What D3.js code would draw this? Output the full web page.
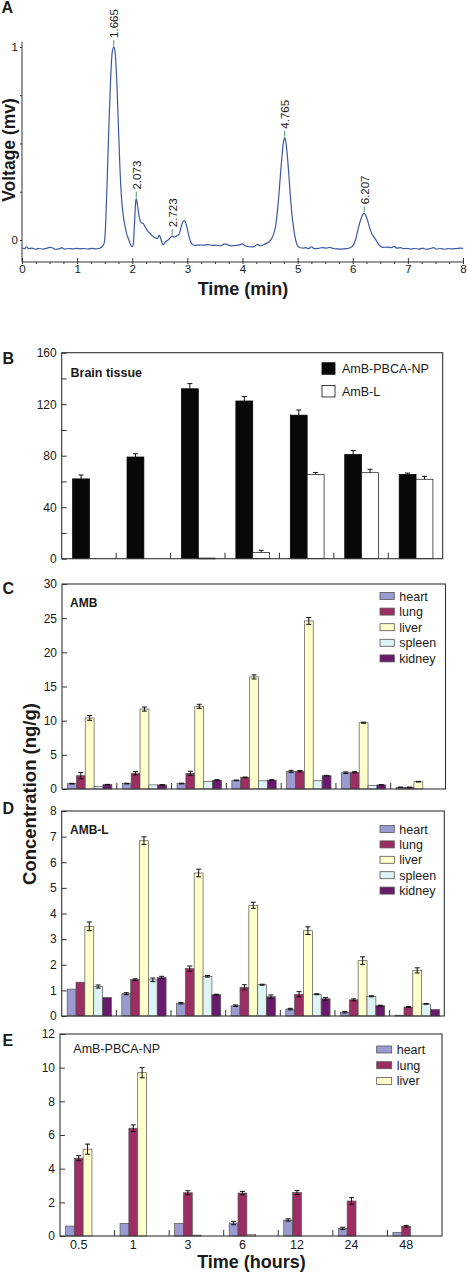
<!DOCTYPE html>
<html><head><meta charset="utf-8">
<script src="https://cdn.jsdelivr.net/npm/d3@7"></script>
<style>body{margin:0;background:#fff}svg{display:block}text{font-family:"Liberation Sans",Arial,sans-serif;fill:#1a1a1a}</style>
</head><body><svg id="c" width="467" height="1273"></svg>
<script>
// ---------- Panel A: chromatogram ----------
const chromTime = [0.00,0.05,0.08,0.12,0.18,0.25,0.30,0.38,0.45,0.50,0.55,0.60,0.68,0.72,0.78,0.85,0.92,1.00,1.05,1.12,1.20,1.28,1.33,1.40,1.45,1.48,1.50,1.52,1.55,1.58,1.61,1.64,1.665,1.69,1.72,1.75,1.78,1.81,1.84,1.87,1.90,1.94,1.97,2.00,2.02,2.04,2.06,2.073,2.09,2.12,2.16,2.20,2.23,2.27,2.32,2.37,2.42,2.46,2.49,2.52,2.56,2.60,2.65,2.70,2.723,2.76,2.80,2.85,2.88,2.92,2.95,2.98,3.02,3.06,3.10,3.15,3.22,3.30,3.38,3.45,3.52,3.60,3.68,3.73,3.80,3.88,3.95,4.00,4.05,4.12,4.20,4.27,4.32,4.38,4.45,4.50,4.55,4.60,4.65,4.70,4.74,4.765,4.79,4.83,4.87,4.91,4.95,5.00,5.05,5.10,5.15,5.20,5.25,5.30,5.38,5.45,5.52,5.58,5.65,5.72,5.80,5.88,5.95,6.00,6.05,6.10,6.15,6.19,6.207,6.23,6.27,6.31,6.35,6.40,6.45,6.50,6.55,6.62,6.70,6.75,6.80,6.87,6.93,7.00,7.05,7.12,7.20,7.27,7.33,7.40,7.47,7.52,7.60,7.65,7.72,7.80,7.88,7.95,8.00];
const chromVolt = [-0.040,-0.045,-0.035,-0.045,-0.042,-0.048,-0.044,-0.047,-0.043,-0.038,-0.040,-0.048,-0.046,-0.040,-0.047,-0.044,-0.046,-0.043,-0.046,-0.044,-0.047,-0.043,-0.046,-0.044,-0.035,-0.025,0.000,0.100,0.350,0.620,0.850,0.980,1.000,0.970,0.820,0.580,0.350,0.200,0.120,0.070,0.030,0.000,-0.025,-0.035,-0.020,0.080,0.190,0.215,0.190,0.130,0.090,0.085,0.070,0.050,0.035,0.020,0.010,0.008,0.025,0.005,-0.025,-0.010,0.000,0.015,0.020,0.015,0.020,0.030,0.060,0.095,0.100,0.080,0.030,-0.010,-0.025,-0.028,-0.025,-0.027,-0.024,-0.028,-0.027,-0.030,-0.020,-0.025,-0.030,-0.028,-0.025,-0.020,-0.030,-0.035,-0.036,-0.022,-0.030,-0.025,-0.015,-0.005,0.020,0.070,0.200,0.380,0.500,0.530,0.500,0.380,0.220,0.100,0.020,-0.030,-0.040,-0.042,-0.040,-0.045,-0.035,-0.045,-0.043,-0.040,-0.042,-0.038,-0.044,-0.046,-0.047,-0.045,-0.040,-0.030,0.000,0.060,0.110,0.135,0.138,0.130,0.100,0.060,0.030,0.010,-0.015,-0.032,-0.038,-0.037,-0.040,-0.033,-0.042,-0.040,-0.045,-0.043,-0.048,-0.044,-0.047,-0.042,-0.048,-0.045,-0.040,-0.047,-0.044,-0.048,-0.045,-0.046,-0.044,-0.042,-0.043];
const peakTimes = [1.665, 2.073, 2.723, 4.765, 6.207];
const peakVolts = [1.000, 0.215, 0.020, 0.530, 0.138];
const peakLabels = ["1.665", "2.073", "2.723", "4.765", "6.207"];
const chromXTicks = [0, 1, 2, 3, 4, 5, 6, 7, 8];
const chromYTicks = [0, 0.25, 0.5, 0.75, 1];

// ---------- shared ----------
const timeLabels = ["0.5", "1", "3", "6", "12", "24", "48"];
const organs = ["heart", "lung", "liver", "spleen", "kidney"];
const organColors = ["#9b9bd1", "#9c2e63", "#ffffcc", "#ddf3f4", "#6a1a6c"];

// ---------- Panel B: brain tissue ----------
const brainSeries = ["AmB-PBCA-NP", "AmB-L"];
const brainNP = [62, 79, 132, 122.5, 111.5, 81, 65.5];
const brainNPErr = [3, 2.5, 4, 3.5, 4, 3, 1];
const brainL = [0, 0, 0.5, 4.7, 65.5, 66.8, 61.7];
const brainLErr = [0, 0, 0, 1.8, 1.5, 2.6, 2.3];
const brainTicks = [0, 20, 40, 60, 80, 100, 120, 140, 160];

// ---------- Panel C: AMB ----------
const ambHeart = [0.78, 0.80, 0.80, 1.26, 2.58, 2.38, 0.25];
const ambHeartErr = [0.05, 0.05, 0.05, 0.05, 0.15, 0.12, 0.03];
const ambLung = [1.95, 2.30, 2.30, 1.70, 2.60, 2.45, 0.25];
const ambLungErr = [0.45, 0.25, 0.30, 0.05, 0.10, 0.08, 0.02];
const ambLiver = [10.4, 11.7, 12.1, 16.4, 24.6, 9.7, 1.07];
const ambLiverErr = [0.35, 0.30, 0.30, 0.30, 0.50, 0.08, 0.05];
const ambSpleen = [0.35, 0.60, 1.12, 1.20, 1.20, 0.50, 0];
const ambSpleenErr = [0, 0, 0, 0, 0, 0, 0];
const ambKidney = [0.65, 0.60, 1.30, 1.30, 1.95, 0.60, 0];
const ambKidneyErr = [0.03, 0.03, 0.05, 0.05, 0.05, 0.03, 0];
const ambTicks = [0, 5, 10, 15, 20, 25, 30];

// ---------- Panel D: AMB-L ----------
const lHeart = [1.05, 0.87, 0.50, 0.40, 0.27, 0.15, 0.03];
const lHeartErr = [0, 0.04, 0.03, 0.03, 0.03, 0.03, 0];
const lLung = [1.32, 1.42, 1.85, 1.12, 0.85, 0.63, 0.35];
const lLungErr = [0, 0.03, 0.10, 0.10, 0.10, 0.04, 0.02];
const lLiver = [3.50, 6.84, 5.58, 4.32, 3.33, 2.16, 1.78];
const lLiverErr = [0.17, 0.15, 0.15, 0.12, 0.15, 0.15, 0.10];
const lSpleen = [1.15, 1.41, 1.55, 1.22, 0.85, 0.77, 0.47];
const lSpleenErr = [0.06, 0.07, 0.03, 0.02, 0.02, 0.02, 0.01];
const lKidney = [0.72, 1.50, 0.83, 0.75, 0.67, 0.40, 0.25];
const lKidneyErr = [0, 0.05, 0.02, 0.07, 0.05, 0.02, 0];
const lTicks = [0, 1, 2, 3, 4, 5, 6, 7, 8];

// ---------- Panel E: AmB-PBCA-NP ----------
const npHeart = [0.59, 0.75, 0.75, 0.77, 0.95, 0.45, 0.22];
const npHeartErr = [0, 0, 0, 0.10, 0.07, 0.07, 0];
const npLung = [4.62, 6.40, 2.57, 2.55, 2.58, 2.08, 0.58];
const npLungErr = [0.15, 0.20, 0.12, 0.10, 0.12, 0.20, 0.05];
const npLiver = [5.16, 9.70, 0.05, 0.10, 0, 0, 0];
const npLiverErr = [0.30, 0.30, 0, 0, 0, 0, 0];
const npTicks = [0, 2, 4, 6, 8, 10, 12];

const svg = d3.select("#c");
const AX = "#333";

function styleAxis(g, fs) {
  g.selectAll("path.domain").remove();
  g.selectAll(".tick line").attr("stroke", AX);
  g.selectAll(".tick text").attr("font-size", fs).attr("fill", "#1a1a1a")
    .attr("font-family", '"Liberation Sans",Arial,sans-serif');
}

// ================= Panel A =================
(function () {
  const x = d3.scaleLinear().domain([0, 8]).range([22, 463]);
  const y = d3.scaleLinear().domain([-0.114, 1.027]).range([262, 41.7]);
  const g = svg.append("g");
  g.append("line").attr("x1", x(0)).attr("x2", x(0)).attr("y1", y(1.027)).attr("y2", y(-0.114)).attr("stroke", AX).attr("stroke-width", 1);
  g.append("line").attr("x1", x(0)).attr("x2", x(8)).attr("y1", y(-0.114)).attr("y2", y(-0.114)).attr("stroke", AX).attr("stroke-width", 1);
  const minor = d3.range(0, 8.001, 0.25);
  const xm = g.append("g").attr("transform", `translate(0,${y(-0.114)})`)
    .call(d3.axisBottom(x).tickValues(minor).tickSize(2).tickFormat(""));
  styleAxis(xm, 11);
  const xa = g.append("g").attr("transform", `translate(0,${y(-0.114)})`)
    .call(d3.axisBottom(x).tickValues(chromXTicks).tickSize(-4).tickPadding(1).tickFormat(d3.format("d")));
  styleAxis(xa, 11.5);
  xa.selectAll(".tick text").attr("dy", "0.85em");
  const ya = g.append("g").attr("transform", `translate(${x(0)},0)`)
    .call(d3.axisLeft(y).tickValues(chromYTicks).tickSize(2).tickPadding(2)
      .tickFormat(d => (d === 0 || d === 1) ? d3.format("d")(d) : ""));
  styleAxis(ya, 11.5);
  const pts = chromTime.map((t, i) => [t, chromVolt[i]]);
  g.append("path").datum(pts)
    .attr("d", d3.line().x(d => x(d[0])).y(d => y(d[1])).curve(d3.curveMonotoneX))
    .attr("fill", "none").attr("stroke", "#3d58a3").attr("stroke-width", 1.2);
  peakTimes.forEach((t, i) => {
    const px = x(t), py = y(peakVolts[i]);
    g.append("line").attr("x1", px).attr("x2", px).attr("y1", py - 1).attr("y2", py - 7)
      .attr("stroke", "#4f9a68").attr("stroke-width", 1);
    g.append("text").attr("transform", `translate(${px + 4.5},${py - 9}) rotate(-90)`)
      .attr("font-size", 11.5).text(peakLabels[i]);
  });
  g.append("text").attr("transform", `translate(15,150) rotate(-90)`).attr("text-anchor", "middle")
    .attr("font-size", 17.5).attr("font-weight", "bold").text("Voltage (mv)");
  g.append("text").attr("x", 243).attr("y", 295).attr("text-anchor", "middle")
    .attr("font-size", 18).attr("font-weight", "bold").text("Time (min)");
  svg.append("text").attr("x", 1.5).attr("y", 13.3).attr("font-size", 16).attr("font-weight", "bold").text("A");
})();

// ================= grouped bar panels =================
function barPanel(cfg) {
  const g = svg.append("g");
  const xg = d3.scaleBand().domain(timeLabels).range([cfg.left, cfg.right]);
  const xi = d3.scaleBand().domain(cfg.slots)
    .range([xg.bandwidth() * cfg.inner[0], xg.bandwidth() * cfg.inner[1]]);
  const y = d3.scaleLinear().domain([0, cfg.max]).range([cfg.bottom, cfg.top]);
  cfg.series.forEach(s => {
    const rows = timeLabels.map((t, i) => ({ t, v: s.values[i], e: s.errs[i] }));
    g.append("g").selectAll("rect").data(rows.filter(r => r.v > 0)).join("rect")
      .attr("x", d => xg(d.t) + xi(s.name))
      .attr("width", xi.bandwidth())
      .attr("y", d => y(d.v))
      .attr("height", d => Math.max(y(0) - y(d.v), 0.8))
      .attr("fill", s.color).attr("stroke", s.stroke || "#555").attr("stroke-width", 0.7);
    const eg = g.append("g").attr("stroke", "#111").attr("stroke-width", 1);
    rows.filter(r => r.e > 0).forEach(r => {
      const cx = xg(r.t) + xi(s.name) + xi.bandwidth() / 2;
      const y1 = y(r.v + r.e), y0 = cfg.upOnly ? y(r.v) : y(r.v - r.e);
      eg.append("line").attr("x1", cx).attr("x2", cx).attr("y1", y1).attr("y2", y0);
      eg.append("line").attr("x1", cx - 2.5).attr("x2", cx + 2.5).attr("y1", y1).attr("y2", y1);
      if (!cfg.upOnly) eg.append("line").attr("x1", cx - 2.5).attr("x2", cx + 2.5).attr("y1", y0).attr("y2", y0);
    });
  });
  const ya = g.append("g").attr("transform", `translate(${cfg.left},0)`)
    .call(d3.axisLeft(y).tickValues(cfg.ticks).tickSize(-5).tickPadding(5)
      .tickFormat(d => (cfg.labelEvery ? (d % cfg.labelEvery === 0 ? d : "") : d)));
  styleAxis(ya, 12);
  g.append("g").selectAll("line").data(timeLabels.slice(1)).join("line")
    .attr("x1", d => xg(d)).attr("x2", d => xg(d))
    .attr("y1", cfg.bottom).attr("y2", cfg.bottom - 6)
    .attr("stroke", AX).attr("stroke-width", 1);
  g.append("rect").attr("x", cfg.left).attr("y", cfg.top)
    .attr("width", cfg.right - cfg.left).attr("height", cfg.bottom - cfg.top)
    .attr("fill", "none").attr("stroke", AX).attr("stroke-width", 1.1);
  const lg = g.append("g");
  cfg.series.forEach((s, i) => {
    const cy = cfg.legend.y + i * cfg.legend.dy;
    lg.append("rect").attr("x", cfg.legend.x).attr("y", cy - cfg.legend.h / 2)
      .attr("width", cfg.legend.w).attr("height", cfg.legend.h)
      .attr("fill", s.color).attr("stroke", s.stroke || "#555").attr("stroke-width", 0.8);
    lg.append("text").attr("x", cfg.legend.x + cfg.legend.w + cfg.legend.gap).attr("y", cy)
      .attr("dy", "0.36em").attr("font-size", cfg.legend.fs).text(s.name);
  });
  g.append("text").attr("x", cfg.titleX).attr("y", cfg.titleY)
    .attr("font-size", cfg.titleFs).attr("font-weight", cfg.titleBold ? "bold" : "normal").text(cfg.title);
  svg.append("text").attr("x", 2.5).attr("y", cfg.letterY).attr("font-size", 16)
    .attr("font-weight", "bold").text(cfg.letter);
  return { xg, xi, y };
}

barPanel({
  left: 61.7, right: 442.7, top: 352.7, bottom: 558.7, max: 160,
  ticks: brainTicks, labelEvery: 40, slots: brainSeries, inner: [0.2, 0.82], upOnly: true,
  series: [
    { name: "AmB-PBCA-NP", color: "#080808", stroke: "#000", values: brainNP, errs: brainNPErr },
    { name: "AmB-L", color: "#ffffff", stroke: "#111", values: brainL, errs: brainLErr }
  ],
  legend: { x: 322, y: 368.5, dy: 22.7, w: 13, h: 11.5, gap: 7, fs: 12.5 },
  title: "Brain tissue", titleX: 70.5, titleY: 377, titleFs: 12.5, titleBold: true,
  letter: "B", letterY: 363.5
});

function organSeries(vals, errs, n) {
  return organs.slice(0, n).map((o, i) => ({ name: o, color: organColors[i], values: vals[i], errs: errs[i] }));
}

barPanel({
  left: 62, right: 445.5, top: 584, bottom: 789, max: 30,
  ticks: ambTicks, slots: organs, inner: [0.1, 0.91],
  series: organSeries([ambHeart, ambLung, ambLiver, ambSpleen, ambKidney],
    [ambHeartErr, ambLungErr, ambLiverErr, ambSpleenErr, ambKidneyErr], 5),
  legend: { x: 380, y: 596, dy: 15.6, w: 14.3, h: 7, gap: 5, fs: 12.5 },
  title: "AMB", titleX: 70, titleY: 606.7, titleFs: 12, titleBold: true,
  letter: "C", letterY: 593.5
});

barPanel({
  left: 61.7, right: 444.3, top: 811, bottom: 1016, max: 8,
  ticks: lTicks, slots: organs, inner: [0.1, 0.91],
  series: organSeries([lHeart, lLung, lLiver, lSpleen, lKidney],
    [lHeartErr, lLungErr, lLiverErr, lSpleenErr, lKidneyErr], 5),
  legend: { x: 380, y: 829, dy: 15.4, w: 14.3, h: 7, gap: 5, fs: 12.5 },
  title: "AMB-L", titleX: 70, titleY: 834, titleFs: 12, titleBold: true,
  letter: "D", letterY: 813.5
});

const E = barPanel({
  left: 60, right: 442, top: 1034, bottom: 1236, max: 12,
  ticks: npTicks, slots: organs, inner: [0.1, 0.91],
  series: organSeries([npHeart, npLung, npLiver], [npHeartErr, npLungErr, npLiverErr], 3),
  legend: { x: 376.7, y: 1049.5, dy: 15.7, w: 15, h: 7, gap: 5, fs: 12.5 },
  title: "AmB-PBCA-NP", titleX: 73.3, titleY: 1052.5, titleFs: 12.5, titleBold: false,
  letter: "E", letterY: 1045.5
});
svg.append("g").selectAll("text").data(timeLabels).join("text")
  .attr("x", d => E.xg(d) + E.xi("lung") + E.xi.bandwidth() / 2)
  .attr("y", 1248.5).attr("text-anchor", "middle").attr("font-size", 12.5).text(d => d);
svg.append("text").attr("x", 251.5).attr("y", 1268).attr("text-anchor", "middle")
  .attr("font-size", 18).attr("font-weight", "bold").text("Time (hours)");
svg.append("text").attr("transform", "translate(36,794) rotate(-90)").attr("text-anchor", "middle")
  .attr("font-size", 18.5).attr("font-weight", "bold").text("Concentration (ng/g)");
</script></body></html>
